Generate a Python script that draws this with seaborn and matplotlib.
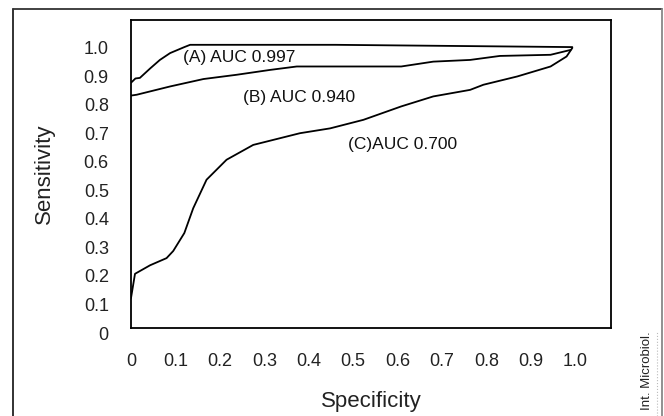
import numpy as np
import pandas as pd
import matplotlib
matplotlib.use('Agg')
import matplotlib.pyplot as plt
import matplotlib.transforms as mtransforms
from matplotlib.lines import Line2D
import seaborn as sns

# ROC curves (specificity axis as drawn, sensitivity)
spec_a = [0.0, 0.01, 0.02, 0.043, 0.065, 0.088, 0.12, 0.133, 0.46, 0.993]
sens_a = [0.86, 0.875, 0.877, 0.91, 0.94, 0.964, 0.985, 0.993, 0.993, 0.985]

spec_b = [0.0, 0.013, 0.088, 0.163, 0.238, 0.313, 0.373, 0.538, 0.608, 0.68, 0.763, 0.83, 0.944, 0.989]
sens_b = [0.815, 0.818, 0.847, 0.873, 0.888, 0.905, 0.917, 0.917, 0.917, 0.934, 0.94, 0.954, 0.958, 0.975]

spec_c = [0.0, 0.009, 0.043, 0.08, 0.095, 0.12, 0.14, 0.17, 0.215, 0.275, 0.38, 0.448, 0.523,
          0.608, 0.68, 0.763, 0.793, 0.869, 0.944, 0.98, 0.993]
sens_c = [0.105, 0.19, 0.22, 0.245, 0.27, 0.333, 0.42, 0.52, 0.59, 0.642, 0.683, 0.70, 0.73,
          0.777, 0.812, 0.835, 0.853, 0.882, 0.917, 0.952, 0.982]

curve_labels = ['(A) AUC 0.997', '(B) AUC 0.940', '(C)AUC 0.700']
label_x = [0.117, 0.252, 0.489]
label_y = [0.947, 0.807, 0.642]

tick_vals = [0, 0.1, 0.2, 0.3, 0.4, 0.5, 0.6, 0.7, 0.8, 0.9, 1.0]
tick_text = ['0', '0.1', '0.2', '0.3', '0.4', '0.5', '0.6', '0.7', '0.8', '0.9', '1.0']

df = pd.concat([
    pd.DataFrame({'spec': spec_a, 'sens': sens_a, 'curve': 'A'}),
    pd.DataFrame({'spec': spec_b, 'sens': sens_b, 'curve': 'B'}),
    pd.DataFrame({'spec': spec_c, 'sens': sens_c, 'curve': 'C'}),
])

sns.set_style('white')
plt.rcParams['font.family'] = ['Liberation Sans', 'DejaVu Sans']

fig = plt.figure(figsize=(6.64, 4.16), dpi=100)
ax = fig.add_axes([131 / 664, 88 / 416, 480 / 664, 308 / 416])

sns.lineplot(data=df, x='spec', y='sens', units='curve', estimator=None, sort=False,
             color='black', linewidth=1.3, ax=ax, legend=False)

for txt, x, y in zip(curve_labels, label_x, label_y):
    ax.text(x, y, txt, fontsize=12.5, va='center', ha='left', color='#111111')

ax.set_xlim(0, 1.08)
ax.set_ylim(0, 1.08)
ax.set_xticks(tick_vals)
ax.set_xticklabels(tick_text)
ax.set_yticks(tick_vals)
ax.set_yticklabels(tick_text)
ax.tick_params(axis='both', direction='in', length=5, width=1, color='black',
               labelsize=13, labelcolor='#222222')
ax.tick_params(axis='x', pad=18)
ax.tick_params(axis='y', pad=16)
# y tick labels sit a little below their ticks in the original
shift = mtransforms.ScaledTranslation(0, -5 / 100, fig.dpi_scale_trans)
for lbl in ax.get_yticklabels():
    lbl.set_transform(lbl.get_transform() + shift)

for s in ax.spines.values():
    s.set_visible(True)
    s.set_color('black')
    s.set_linewidth(1.3)

ax.set_xlabel('Specificity', fontsize=16, color='#222222', labelpad=15)
ax.set_ylabel('Sensitivity', fontsize=16, color='#222222', labelpad=21)

# outer frame around the figure
W, H = 664, 416
fig.add_artist(Line2D([13 / W, 13 / W], [0, 1 - 9 / H], transform=fig.transFigure, color='#222222', lw=1.3))
fig.add_artist(Line2D([13 / W, 662 / W], [1 - 9 / H, 1 - 9 / H], transform=fig.transFigure, color='#333333', lw=1.3))
fig.add_artist(Line2D([662 / W, 662 / W], [0, 1 - 9 / H], transform=fig.transFigure, color='#888888', lw=1.3))
fig.add_artist(Line2D([657 / W, 657 / W], [0, 1 - 332 / H], transform=fig.transFigure, color='#bbbbbb', lw=0.8, ls=':'))

fig.text(647 / W, 1 - 410 / H, 'Int. Microbiol.', rotation=90, fontsize=9.5,
         ha='center', va='bottom', color='#222222')

fig.savefig('out.png', dpi=100)
